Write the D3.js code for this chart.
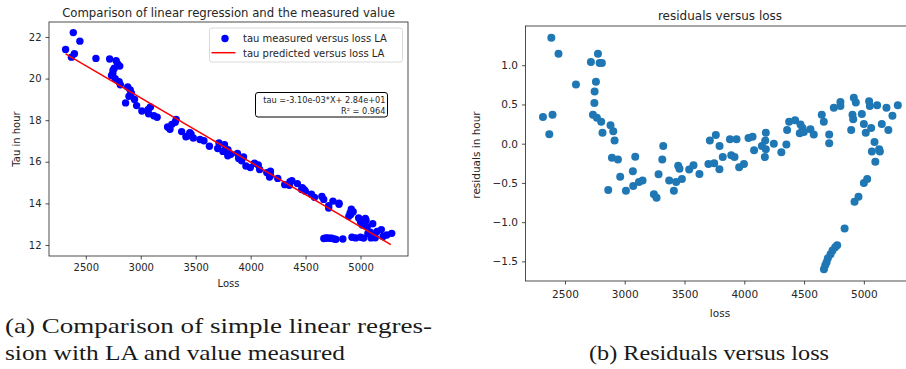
<!DOCTYPE html>
<html>
<head>
<meta charset="utf-8">
<script src="https://cdn.jsdelivr.net/npm/d3@7"></script>
<style>
body { margin: 0; background: #fff; }
text { font-family: "DejaVu Sans", sans-serif; fill: #262626; }
</style>
</head>
<body>
<script>
// values (loss, measured tau, residual of the fit)
const loss = [2316, 2369, 2386, 2396, 2446, 2592, 2717, 2776, 2790, 2809,
    2759, 2748, 2746, 2734, 2767, 2803, 2881, 2904, 2814, 2915,
    2893, 2943, 3088, 2962, 3068, 2862, 3010, 3071, 3119, 3149,
    3283, 3244, 3266, 3322, 3314, 3372, 3411, 3430, 3478, 3447,
    3458, 3539, 3575, 3625, 3700, 3748, 3792, 3712, 3762, 3793,
    3820, 3880, 3935, 3891, 3918, 3957, 3997, 4035, 4069, 4082,
    4147, 4175, 4180, 4180, 4172, 4247, 4310, 4352, 4358, 4375,
    4425, 4470, 4487, 4464, 4498, 4553, 4581, 4648, 4665, 4710,
    4710, 4749, 4804, 4804, 4894, 4916, 4933, 4905, 4911, 4983,
    5000, 5016, 5061, 5044, 5050, 5111, 5150, 5189, 5205, 5239,
    5284, 5089, 5067, 5128, 5134, 5096, 5000, 5028, 4922, 4955,
    4839, 4777, 4760, 4738, 4721, 4699, 4688, 4677, 4666];

const tauMeasured = [21.40, 21.03, 22.21, 21.19, 21.80, 20.97, 20.94, 20.86, 20.70, 20.60,
    20.50, 20.40, 20.25, 20.15, 20.00, 19.85, 19.60, 19.45, 19.70, 19.30,
    19.15, 19.00, 18.63, 18.70, 18.51, 18.83, 18.44, 18.31, 18.21, 18.14,
    17.80, 17.67, 17.56, 18.04, 17.90, 17.45, 17.20, 17.25, 17.14, 17.40,
    17.33, 17.07, 17.01, 16.75, 16.64, 16.50, 16.29, 16.90, 16.82, 16.58,
    16.36, 16.40, 16.23, 16.16, 16.05, 15.80, 15.72, 15.93, 15.85, 15.63,
    15.48, 15.47, 15.55, 15.34, 15.27, 15.20, 14.90, 14.87, 15.04, 15.09,
    14.95, 14.75, 14.66, 14.67, 14.58, 14.44, 14.29, 14.33, 14.19, 13.89,
    13.78, 14.11, 14.01, 13.96, 13.38, 13.72, 13.60, 13.54, 13.46, 13.30,
    13.12, 12.96, 12.88, 13.27, 13.19, 13.02, 12.65, 12.74, 12.41, 12.48,
    12.56, 12.61, 12.56, 12.40, 12.35, 12.34, 12.37, 12.33, 12.37, 12.34,
    12.29, 12.27, 12.29, 12.32, 12.32, 12.34, 12.33, 12.32, 12.31];

const residuals = [0.34, 0.12, 1.35, 0.37, 1.145, 0.754, 1.04, 1.145, 1.03, 1.03,
    0.79, 0.665, 0.52, 0.37, 0.33, 0.28, 0.236, 0.16, 0.14, 0.04,
    -0.18, -0.2, -0.165, -0.42, -0.35, -0.59, -0.6, -0.54, -0.487, -0.47,
    -0.39, -0.645, -0.69, -0.03, -0.2, -0.47, -0.6, -0.487, -0.45, -0.28,
    -0.32, -0.33, -0.275, -0.385, -0.26, -0.25, -0.325, 0.04, 0.11, -0.03,
    -0.17, 0.057, 0.057, -0.147, -0.17, -0.3, -0.26, 0.074, 0.09, -0.085,
    -0.03, 0.04, 0.14, -0.07, -0.17, 0.0, -0.11, -0.01, 0.176, 0.28,
    0.30, 0.244, 0.2, 0.134, 0.15, 0.185, 0.116, 0.37, 0.28, 0.116,
    0.006, 0.457, 0.53, 0.48, 0.176, 0.584, 0.524, 0.37, 0.31, 0.38,
    0.25, 0.14, 0.2, 0.54, 0.48, 0.49, 0.25, 0.457, 0.176, 0.355,
    0.49, 0.02, -0.1, -0.07, -0.1, -0.23, -0.5, -0.45, -0.74, -0.675,
    -1.08, -1.295, -1.32, -1.36, -1.41, -1.46, -1.51, -1.55, -1.6];

// fitted line end points
const fitLoss = [2316, 5276];
const fitTau = [21.19, 12.02];

const lossTicks = [2500, 3000, 3500, 4000, 4500, 5000];
const tauTicks = [12, 14, 16, 18, 20, 22];
const residualTicks = [-1.5, -1.0, -0.5, 0.0, 0.5, 1.0];
const legendLabels = ["tau measured versus loss LA", "tau predicted versus loss LA"];
const fitText = ["tau =-3.10e-03*X+ 2.84e+01", "R\u00b2 = 0.964"];

const svg = d3.select("body").append("svg")
    .attr("width", 906)
    .attr("height", 369);

function styleAxis(g, size) {
    g.select(".domain").remove();
    g.selectAll(".tick line").attr("stroke", "#222").attr("stroke-width", 0.8);
    g.selectAll(".tick text").style("font-size", size + "px").attr("fill", "#262626");
}

// ---------- panel (a): measured vs fitted ----------
const xa = d3.scaleLinear().domain([2165, 5432]).range([49, 408]);
const ya = d3.scaleLinear().domain([11.47, 22.72]).range([256, 22]);

svg.append("g")
    .attr("transform", "translate(0,256)")
    .call(d3.axisBottom(xa).tickValues(lossTicks).tickFormat(d3.format("d")).tickSize(3.5).tickPadding(4))
    .call(g => styleAxis(g, 10));

svg.append("g")
    .attr("transform", "translate(49,0)")
    .call(d3.axisLeft(ya).tickValues(tauTicks).tickFormat(d3.format("d")).tickSize(3.5).tickPadding(4))
    .call(g => styleAxis(g, 10));

svg.append("g").selectAll("circle")
    .data(loss)
    .join("circle")
    .attr("cx", d => xa(d))
    .attr("cy", (d, i) => ya(tauMeasured[i]))
    .attr("r", 3.7)
    .attr("fill", "#0000ff");

svg.append("line")
    .attr("x1", xa(fitLoss[0])).attr("y1", ya(fitTau[0]))
    .attr("x2", xa(fitLoss[1])).attr("y2", ya(fitTau[1]))
    .attr("stroke", "#ff0000")
    .attr("stroke-width", 1.5);

svg.append("rect")
    .attr("x", 49).attr("y", 22)
    .attr("width", 359).attr("height", 234)
    .attr("fill", "none")
    .attr("stroke", "#222")
    .attr("stroke-width", 0.8);

svg.append("text")
    .attr("x", 228.5).attr("y", 17)
    .attr("text-anchor", "middle")
    .style("font-size", "11.7px")
    .text("Comparison of linear regression and the measured value");

svg.append("text")
    .attr("x", 228.5).attr("y", 287)
    .attr("text-anchor", "middle")
    .style("font-size", "10px")
    .text("Loss");

svg.append("text")
    .attr("transform", "translate(16,139) rotate(-90)")
    .attr("text-anchor", "middle")
    .attr("dy", "0.35em")
    .style("font-size", "10px")
    .text("Tau in hour");

// legend
const legend = svg.append("g");
legend.append("rect")
    .attr("x", 209.5).attr("y", 28)
    .attr("width", 193).attr("height", 34)
    .attr("rx", 2.5)
    .attr("fill", "#fff").attr("fill-opacity", 0.8)
    .attr("stroke", "#d0d0d0").attr("stroke-width", 0.8);
legend.append("circle")
    .attr("cx", 225).attr("cy", 38.5).attr("r", 3.7)
    .attr("fill", "#0000ff");
legend.append("line")
    .attr("x1", 211.5).attr("x2", 235.5)
    .attr("y1", 52.7).attr("y2", 52.7)
    .attr("stroke", "#ff0000").attr("stroke-width", 1.5);
legend.selectAll("text.lab")
    .data(legendLabels)
    .join("text")
    .attr("class", "lab")
    .attr("x", 243)
    .attr("y", (d, i) => 42 + i * 14.7)
    .style("font-size", "10px")
    .text(d => d);

// fit annotation
svg.append("rect")
    .attr("x", 255.5).attr("y", 92.5)
    .attr("width", 132).attr("height", 24.5)
    .attr("rx", 2.5)
    .attr("fill", "#fff")
    .attr("stroke", "#000").attr("stroke-width", 1);
svg.selectAll("text.fit")
    .data(fitText)
    .join("text")
    .attr("class", "fit")
    .attr("x", 385.5)
    .attr("y", (d, i) => 102.5 + i * 11)
    .attr("text-anchor", "end")
    .style("font-size", "8.2px")
    .text(d => d);

// ---------- panel (b): residuals ----------
const xb = d3.scaleLinear().domain([2170, 5432]).range([525.5, 915.5]);
const yb = d3.scaleLinear().domain([-1.75, 1.5]).range([281, 26]);

svg.append("g")
    .attr("transform", "translate(0,281)")
    .call(d3.axisBottom(xb).tickValues(lossTicks).tickFormat(d3.format("d")).tickSize(3.5).tickPadding(6))
    .call(g => styleAxis(g, 10.5));

svg.append("g")
    .attr("transform", "translate(525.5,0)")
    .call(d3.axisLeft(yb).tickValues(residualTicks).tickFormat(d3.format(".1f")).tickSize(3.5).tickPadding(4))
    .call(g => styleAxis(g, 10.5));

svg.append("g").selectAll("circle")
    .data(loss)
    .join("circle")
    .attr("cx", d => xb(d))
    .attr("cy", (d, i) => yb(residuals[i]))
    .attr("r", 4)
    .attr("fill", "#1f77b4");

svg.append("rect")
    .attr("x", 525.5).attr("y", 26)
    .attr("width", 390).attr("height", 255)
    .attr("fill", "none")
    .attr("stroke", "#222")
    .attr("stroke-width", 0.8);

svg.append("text")
    .attr("x", 720).attr("y", 19.5)
    .attr("text-anchor", "middle")
    .style("font-size", "12px")
    .text("residuals versus loss");

svg.append("text")
    .attr("x", 720).attr("y", 317)
    .attr("text-anchor", "middle")
    .style("font-size", "10.5px")
    .text("loss");

svg.append("text")
    .attr("transform", "translate(476,155) rotate(-90)")
    .attr("text-anchor", "middle")
    .attr("dy", "0.35em")
    .style("font-size", "10.5px")
    .text("residuals in hour");

// ---------- captions ----------
const captions = [
    {t: "(a) Comparison of simple linear regres-", x: 5, y: 333, w: 427},
    {t: "sion with LA and value measured", x: 5, y: 360, w: 340},
    {t: "(b) Residuals versus loss", x: 589, y: 360, w: 240}
];
svg.selectAll("text.cap")
    .data(captions)
    .join("text")
    .attr("class", "cap")
    .attr("x", d => d.x)
    .attr("y", d => d.y)
    .attr("textLength", d => d.w)
    .attr("lengthAdjust", "spacingAndGlyphs")
    .style("font-family", "'Liberation Serif', 'DejaVu Serif', serif")
    .style("font-size", "22px")
    .style("fill", "#1a1a1a")
    .text(d => d.t);
</script>
</body>
</html>
